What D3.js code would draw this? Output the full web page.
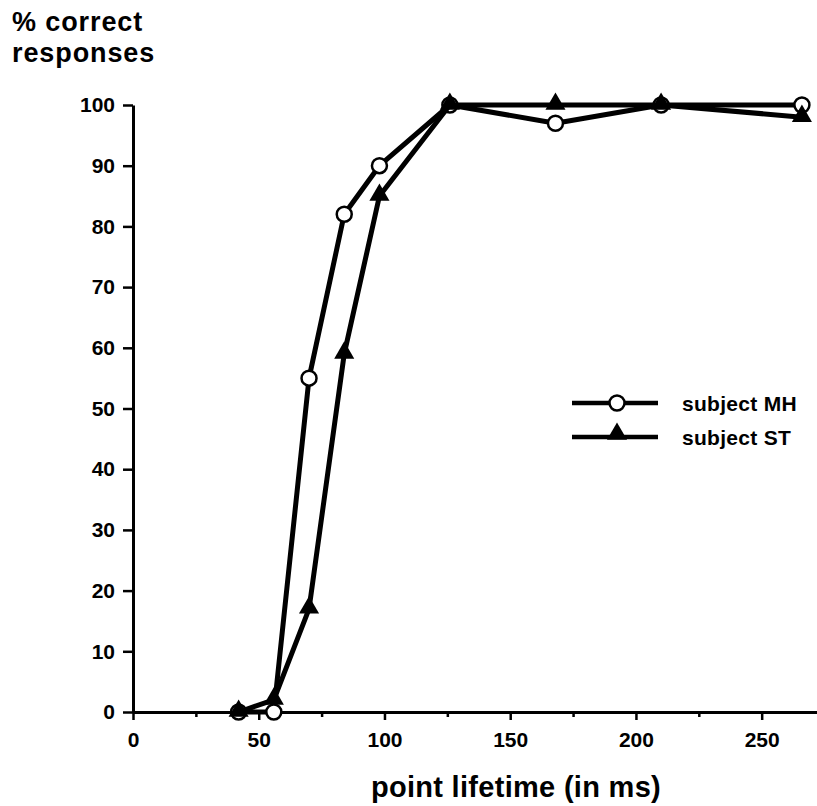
<!DOCTYPE html>
<html>
<head>
<meta charset="utf-8">
<script src="https://cdn.jsdelivr.net/npm/d3@7"></script>
<style>
  body { margin: 0; background: #fff; }
  text { font-family: "Liberation Sans", Arial, Helvetica, sans-serif; font-weight: bold; fill: #000; }
</style>
</head>
<body>
<div id="chart"></div>
<script>
// data
const lifetimes = [42, 56, 70, 84, 98, 126, 168, 210, 266];
const subjectMH = [0, 0, 55, 82, 90, 100, 97, 100, 100];
const subjectST = [0, 2, 17, 59, 85, 100, 100, 100, 98];
const yTicks = [0, 10, 20, 30, 40, 50, 60, 70, 80, 90, 100];
const xMajorTicks = [0, 50, 100, 150, 200, 250];
const xMinorTicks = [25, 75, 125, 175, 225];
const seriesNames = ["subject MH", "subject ST"];

const W = 817, H = 806;

const svg = d3.select("#chart")
    .append("svg")
    .attr("width", W)
    .attr("height", H);

const x = d3.scaleLinear().domain([0, 272]).range([133, 817]);
const y = d3.scaleLinear().domain([0, 100]).range([712, 105]);

// y axis
const yAxis = svg.append("g")
    .attr("transform", `translate(${x(0)},0)`)
    .call(d3.axisLeft(y).tickValues(yTicks).tickSize(10).tickSizeOuter(0).tickPadding(8));
yAxis.select(".domain").attr("stroke-width", 3);
yAxis.selectAll(".tick line").attr("stroke-width", 2.5);
yAxis.selectAll(".tick text").style("font-size", "21px").attr("font-family", null);

// x axis, major ticks
const xAxis = svg.append("g")
    .attr("transform", `translate(0,${y(0)})`)
    .call(d3.axisBottom(x).tickValues(xMajorTicks).tickSize(8).tickSizeOuter(0).tickPadding(12));
xAxis.select(".domain").attr("stroke-width", 3);
xAxis.selectAll(".tick line").attr("stroke-width", 2.5);
xAxis.selectAll(".tick text").style("font-size", "21px").attr("font-family", null);

// x axis, minor ticks
const xMinor = svg.append("g")
    .attr("transform", `translate(0,${y(0)})`)
    .call(d3.axisBottom(x).tickValues(xMinorTicks).tickSize(5).tickFormat(""));
xMinor.select(".domain").remove();
xMinor.selectAll(".tick line").attr("stroke-width", 2.5);

// axis titles
const yTitle = svg.append("text")
    .attr("x", 12)
    .style("font-size", "27px")
    .style("letter-spacing", "0.9px");
yTitle.append("tspan").attr("x", 12).attr("y", 31).text("% correct");
yTitle.append("tspan").attr("x", 12).attr("y", 62).text("responses");

svg.append("text")
    .attr("x", 516)
    .attr("y", 797)
    .attr("text-anchor", "middle")
    .style("font-size", "29px")
    .style("letter-spacing", "0.3px")
    .text("point lifetime (in ms)");

// series
const line = d3.line()
    .x(d => x(d.t))
    .y(d => y(d.v));

const mhData = lifetimes.map((t, i) => ({ t: t, v: subjectMH[i] }));
const stData = lifetimes.map((t, i) => ({ t: t, v: subjectST[i] }));

const tri = d3.symbol().type(d3.symbolTriangle).size(175);

function drawSeries(data, marker) {
    svg.append("path")
        .attr("d", line(data))
        .attr("fill", "none")
        .attr("stroke", "#000")
        .attr("stroke-width", 5)
        .attr("stroke-linejoin", "round");

    if (marker === "circle") {
        svg.selectAll(null)
            .data(data)
            .enter()
            .append("circle")
            .attr("cx", d => x(d.t))
            .attr("cy", d => y(d.v))
            .attr("r", 7.5)
            .attr("fill", "#fff")
            .attr("stroke", "#000")
            .attr("stroke-width", 2.5);
    } else {
        svg.selectAll(null)
            .data(data)
            .enter()
            .append("path")
            .attr("d", tri)
            .attr("transform", d => `translate(${x(d.t)},${y(d.v) - 1})`)
            .attr("fill", "#000");
    }
}

drawSeries(mhData, "circle");
drawSeries(stData, "triangle");

// legend
const legend = svg.selectAll(".legend")
    .data(seriesNames)
    .enter()
    .append("g")
    .attr("class", "legend")
    .attr("transform", (d, i) => `translate(572, ${403 + i * 34})`);

legend.append("line")
    .attr("x1", 0)
    .attr("x2", 86)
    .attr("stroke", "#000")
    .attr("stroke-width", 4.5);

legend.filter((d, i) => i === 0)
    .append("circle")
    .attr("cx", 45)
    .attr("r", 7.5)
    .attr("fill", "#fff")
    .attr("stroke", "#000")
    .attr("stroke-width", 2.5);

legend.filter((d, i) => i === 1)
    .append("path")
    .attr("d", tri)
    .attr("transform", "translate(45,-3)")
    .attr("fill", "#000");

legend.append("text")
    .attr("x", 110)
    .attr("dy", "0.36em")
    .style("font-size", "21px")
    .style("letter-spacing", "0.3px")
    .text(d => d);
</script>
</body>
</html>
